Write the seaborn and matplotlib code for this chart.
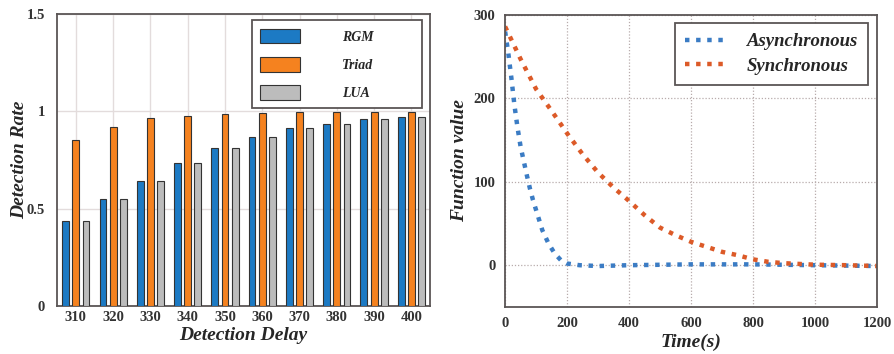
import numpy as np
import pandas as pd
import matplotlib
matplotlib.use("Agg")
import matplotlib.pyplot as plt
import seaborn as sns

# ---------------- data ----------------
delays = ["310", "320", "330", "340", "350", "360", "370", "380", "390", "400"]
rgm = [0.438, 0.547, 0.643, 0.735, 0.812, 0.870, 0.915, 0.935, 0.961, 0.973]
triad = [0.851, 0.921, 0.964, 0.978, 0.988, 0.991, 0.995, 0.998, 0.998, 0.998]
lua = [0.438, 0.547, 0.643, 0.735, 0.812, 0.870, 0.915, 0.935, 0.961, 0.973]
methods = ["RGM", "Triad", "LUA"]

async_t = [0, 10, 20, 30, 40, 50, 60, 70, 80, 90, 100, 120, 140, 160, 180, 200,
           240, 300, 400, 600, 800, 1000, 1200]
async_v = [280, 255, 225, 192, 165, 142, 125, 108, 92, 78, 66, 42, 26, 14, 6, 2,
           0, -1, 0, 1, 1, 0, -1]
sync_t = [0, 50, 100, 150, 200, 250, 300, 350, 400, 450, 500, 550, 600, 650, 700,
          750, 800, 850, 900, 1000, 1100, 1200]
sync_v = [286, 247, 211, 185, 158, 133, 111, 93, 77, 60, 45, 36, 28, 22, 16,
          12, 7, 4, 2.4, 0.6, 0, -1]

bar_colors = ["#1c7ac4", "#f5821f", "#bcbcbc"]
line_blue = "#3b7cc4"
line_orange = "#dc5a28"

df = pd.DataFrame({
    "delay": delays * 3,
    "rate": rgm + triad + lua,
    "method": sum([[m] * len(delays) for m in methods], []),
})

sns.set_theme(style="white")
plt.rcParams["font.family"] = ["Liberation Serif", "DejaVu Serif"]

fig = plt.figure(figsize=(8.94, 3.54), dpi=100)
ax1 = fig.add_axes([0.064, 0.136, 0.417, 0.824])
ax2 = fig.add_axes([0.565, 0.133, 0.416, 0.825])

spine_col = "#5a5555"
tick_fs = 10.5

# ---------------- left: bar chart ----------------
sns.barplot(data=df, x="delay", y="rate", hue="method", hue_order=methods,
            palette=bar_colors, saturation=1, width=0.82, gap=0.33,
            edgecolor="#333333", linewidth=0.8, ax=ax1, zorder=3)
ax1.set_xlim(-0.5, 9.5)
ax1.set_ylim(0, 1.5)
ax1.set_yticks([0, 0.5, 1, 1.5])
ax1.set_yticklabels(["0", "0.5", "1", "1.5"])
ax1.grid(True, color="#e3dcdc", linewidth=1.0, zorder=0)
ax1.set_axisbelow(True)
ax1.set_xlabel("Detection Delay", fontsize=14, fontweight="bold", fontstyle="italic", labelpad=2)
ax1.set_ylabel("Detection Rate", fontsize=14, fontweight="bold", fontstyle="italic", labelpad=-1)
ax1.tick_params(axis="both", length=0, labelsize=tick_fs, colors="#333333")
ax1.tick_params(axis="y", pad=9)
ax1.tick_params(axis="x", pad=4)
for lab in ax1.get_xticklabels() + ax1.get_yticklabels():
    lab.set_fontweight("bold")
for s in ax1.spines.values():
    s.set_color(spine_col)
    s.set_linewidth(1.3)
handles, labels = ax1.get_legend_handles_labels()
leg1 = ax1.legend(handles, labels, bbox_to_anchor=(0.522, 0.682, 0.457, 0.297),
                  loc="upper left", mode="expand", borderaxespad=0, frameon=True,
                  fancybox=False, edgecolor=spine_col, handlelength=2.9,
                  handleheight=1.25, handletextpad=3.0, labelspacing=0.95,
                  borderpad=0.6,
                  prop={"family": "Liberation Serif", "weight": "bold",
                        "style": "italic", "size": 10})
leg1.get_frame().set_linewidth(1.3)
leg1.get_frame().set_alpha(1)
leg1.set_zorder(10)

# ---------------- right: line chart ----------------
sns.lineplot(x=async_t, y=async_v, ax=ax2, color=line_blue, linewidth=3.2,
             linestyle=(0, (1, 1.5)), label="Asynchronous")
sns.lineplot(x=sync_t, y=sync_v, ax=ax2, color=line_orange, linewidth=3.2,
             linestyle=(0, (1, 1.5)), label="Synchronous")
ax2.set_xlim(0, 1200)
ax2.set_ylim(-50, 300)
ax2.set_xticks([0, 200, 400, 600, 800, 1000, 1200])
ax2.set_yticks([0, 100, 200, 300])
ax2.grid(True, color="#b8acac", linestyle=(0, (1, 1.5)), linewidth=0.9)
ax2.set_xlabel("Time(s)", fontsize=14, fontweight="bold", fontstyle="italic", labelpad=3)
ax2.set_ylabel("Function value", fontsize=14, fontweight="bold", fontstyle="italic", labelpad=4)
ax2.tick_params(axis="both", length=0, labelsize=tick_fs, colors="#333333")
ax2.tick_params(axis="y", pad=7)
ax2.tick_params(axis="x", pad=7)
for lab in ax2.get_xticklabels() + ax2.get_yticklabels():
    lab.set_fontweight("bold")
for s in ax2.spines.values():
    s.set_color(spine_col)
    s.set_linewidth(1.3)
leg2 = ax2.legend(loc="upper right", bbox_to_anchor=(0.977, 0.973), borderaxespad=0,
                  frameon=True, fancybox=False, edgecolor=spine_col,
                  handlelength=2.3, handletextpad=1.0, labelspacing=0.4,
                  borderpad=0.55,
                  prop={"family": "Liberation Serif", "weight": "bold",
                        "style": "italic", "size": 13.5})
leg2.get_frame().set_linewidth(1.3)
leg2.get_frame().set_alpha(1)

fig.savefig("out.png", dpi=100)
